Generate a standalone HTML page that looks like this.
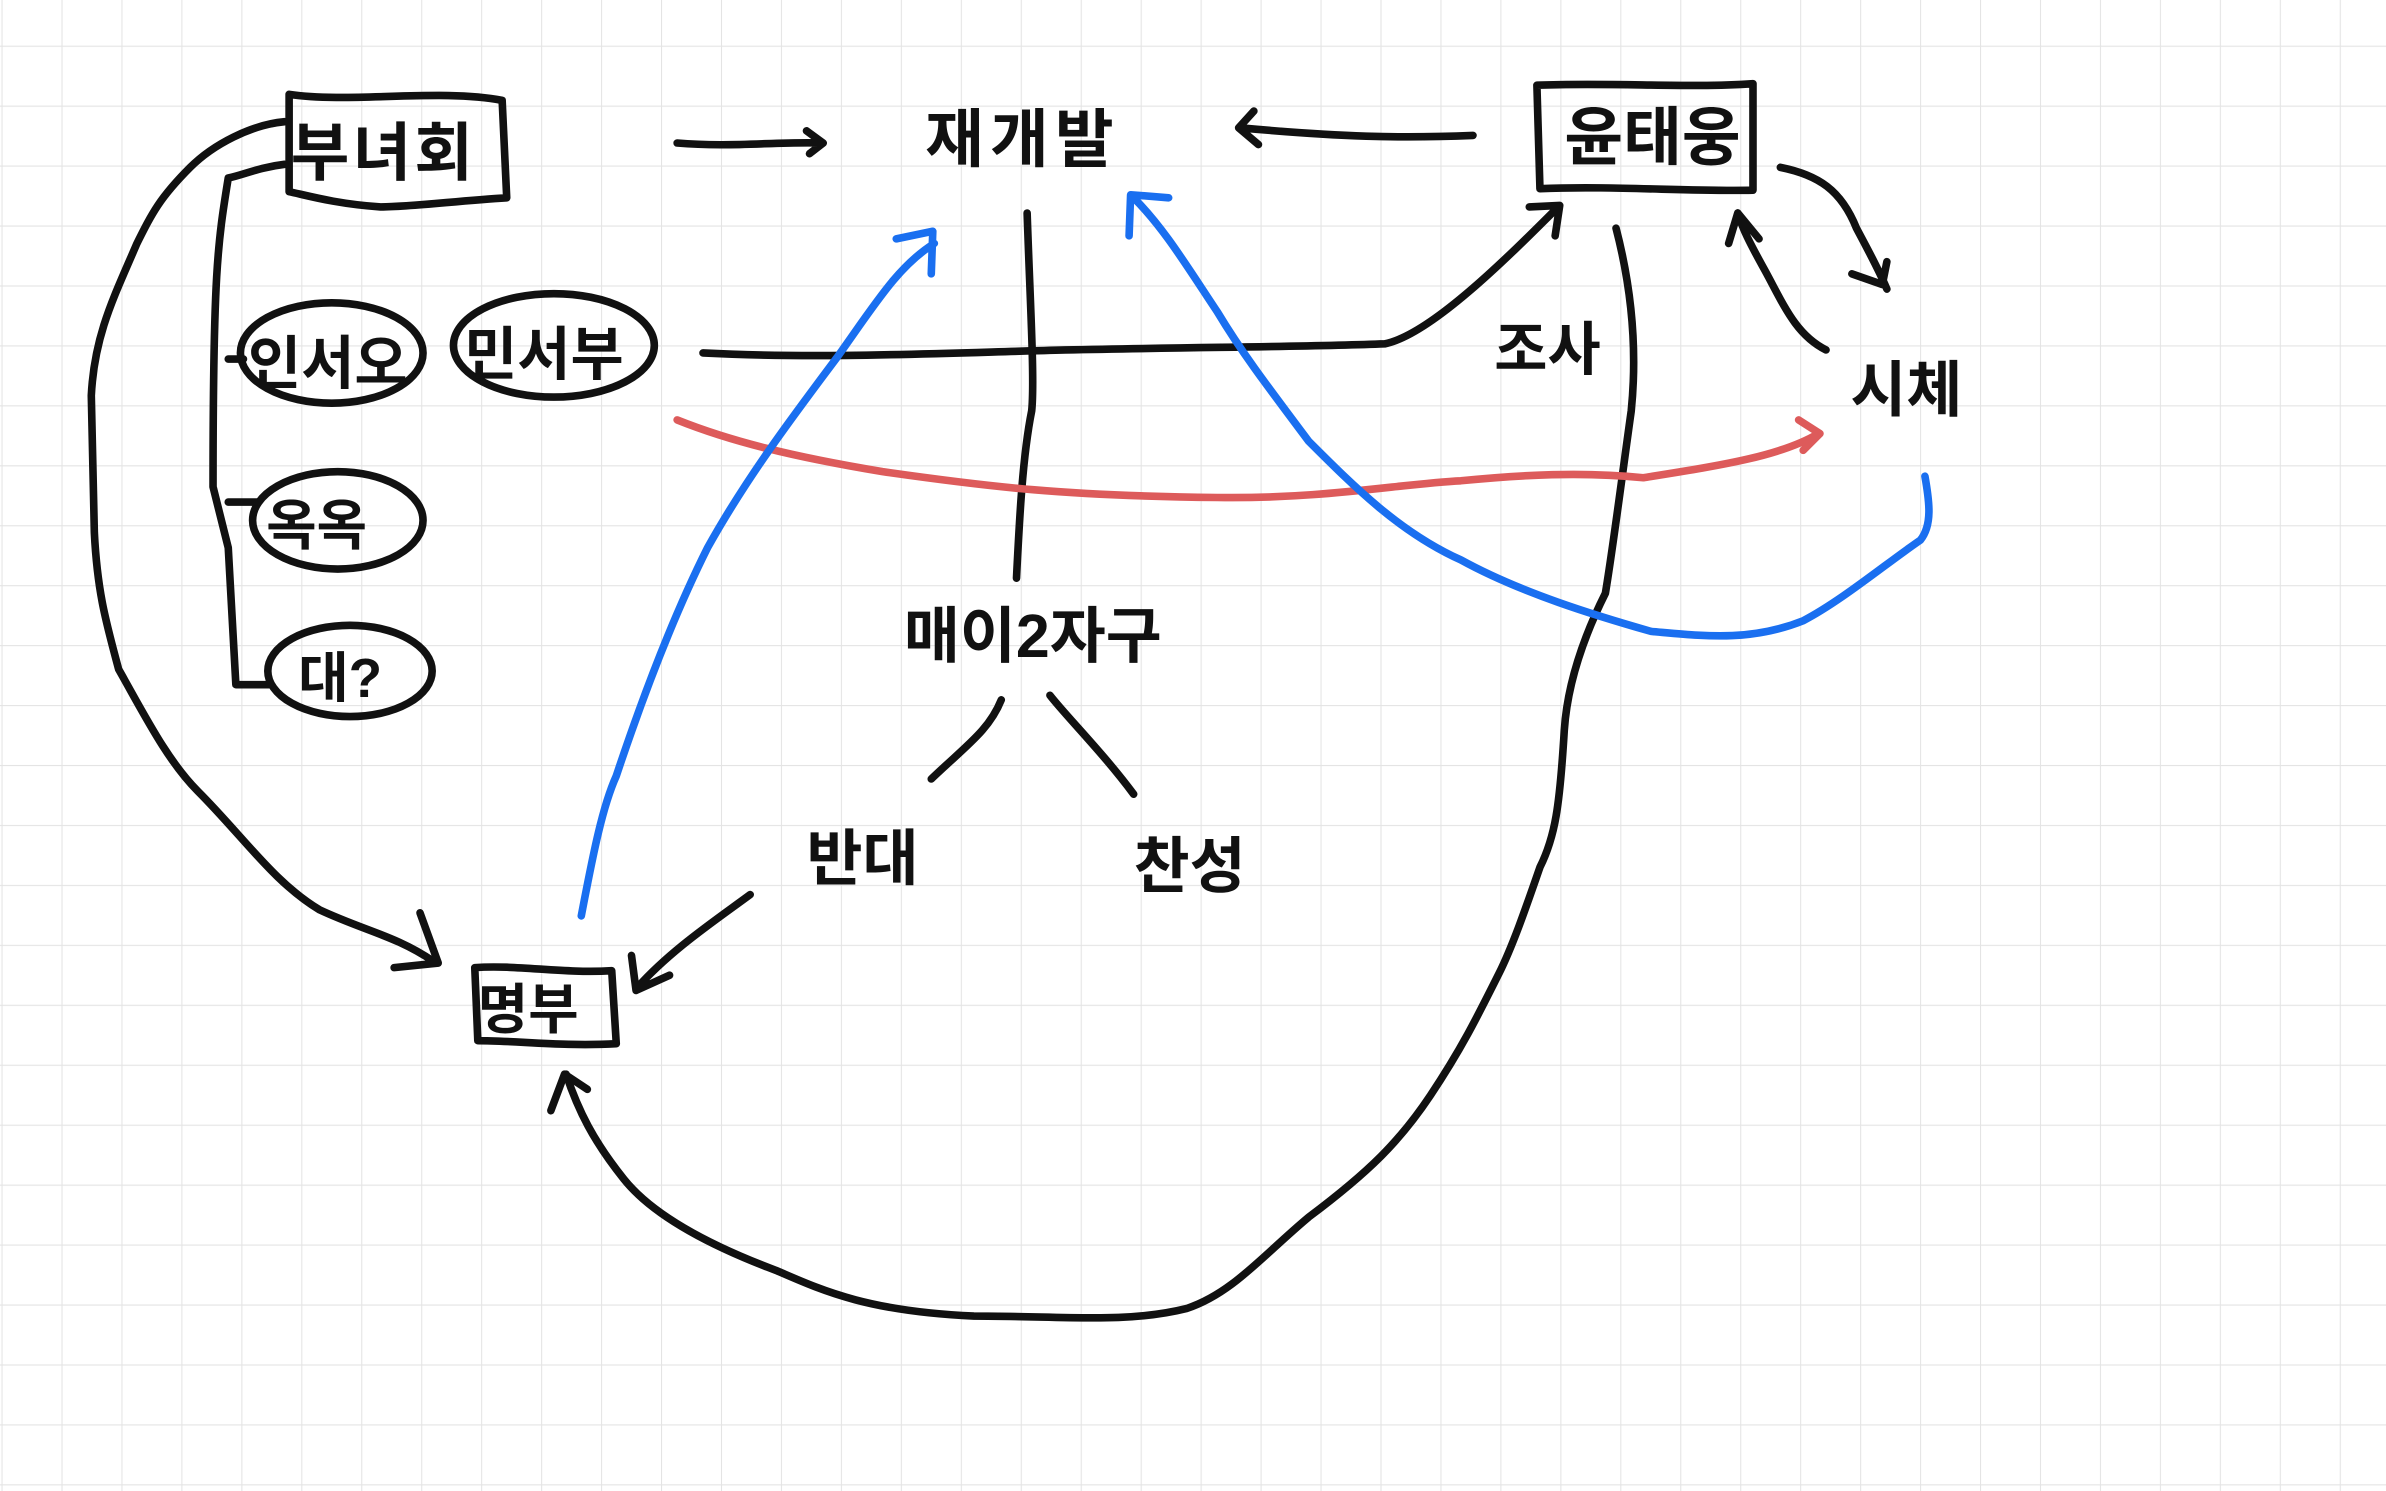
<!DOCTYPE html>
<html><head><meta charset="utf-8"><style>
html,body{margin:0;padding:0;background:#fff;}
svg{display:block;}
text{font-family:"Liberation Sans","Noto Sans CJK KR",sans-serif;font-weight:700;fill:#111;}
</style></head><body>
<svg width="2386" height="1491" viewBox="0 0 1568 980" preserveAspectRatio="none" xmlns="http://www.w3.org/2000/svg">
<defs>
<pattern id="g" x="1" y="30" width="39.4" height="39.4" patternUnits="userSpaceOnUse">
<path d="M0 0H39.4M0 0V39.4" stroke="#e4e4e4" stroke-width="1.4" fill="none"/>
</pattern>
</defs>
<rect width="1568" height="980" fill="#fff"/>
<rect width="1568" height="980" fill="url(#g)"/>
<g fill="none" stroke="#111" stroke-width="5" stroke-linecap="round" stroke-linejoin="round">
<path d="M190 62 C230 68 290 58 330 66 L333 130 C300 132 270 136 250 136 C220 134 200 128 190 126 Z"/>
<path d="M1010 56 C1060 54 1110 58 1152 55 L1152 125 C1110 126 1060 122 1012 124 Z"/>
<path d="M312 636 C340 634 370 640 402 638 L405 686 C370 688 340 684 314 684 Z"/>
<ellipse cx="218" cy="232" rx="60" ry="33"/>
<ellipse cx="364" cy="227" rx="66" ry="34"/>
<ellipse cx="222" cy="342" rx="56" ry="32"/>
<ellipse cx="230" cy="441" rx="54" ry="30"/>
<path d="M187 80 C165 82 140 95 125 110 C105 130 100 140 90 160 C75 195 62 220 60 260 L62 350 C64 390 70 410 78 440 C95 470 110 500 130 520 C160 550 180 580 210 598 C240 612 260 615 285 632"/>
<path d="M276 600 L288 633 L259 636"/>
<path d="M187 108 C170 110 160 115 150 117 C143 160 140 180 140 320 L150 360 L155 450 L178 450"/>
<path d="M150 236 L160 236 M150 330 L170 330"/>
<path d="M445 94 C480 97 510 93 540 94 M530 86 L541 94 L532 101"/>
<path d="M968 89 C920 91 880 90 815 84 M824 73 L814 84 L827 95"/>
<path d="M675 140 C677 200 680 250 678 270 C672 300 670 340 668 380"/>
<path d="M462 232 C540 236 620 232 700 230 C800 228 860 228 910 226 C940 220 990 170 1025 135 M1005 136 L1025 135 L1022 155"/>
<path d="M1062 150 C1075 200 1075 240 1072 270 C1065 320 1060 360 1055 390 C1040 420 1030 450 1028 480 C1025 530 1022 550 1012 570 C1005 590 995 620 985 640 C970 670 960 690 940 720 C920 750 900 770 860 800 C830 825 810 850 780 860 C740 870 700 865 640 865 C570 862 540 848 510 835 C470 820 430 800 410 775 C390 750 380 730 372 706"/>
<path d="M362 730 L371 706 L386 716"/>
<path d="M1170 110 C1195 115 1210 125 1220 150 C1228 165 1235 178 1240 190 M1217 180 L1237 187 L1240 172"/>
<path d="M1200 230 C1180 220 1172 200 1160 178 C1150 160 1145 150 1142 140 M1136 160 L1142 140 L1156 157"/>
<path d="M658 460 C650 480 635 490 612 512"/>
<path d="M690 457 C700 470 725 495 745 522"/>
<path d="M493 588 C470 605 440 625 418 650 M415 628 L418 651 L440 641"/>
</g>
<g fill="none" stroke="#dd5b5b" stroke-width="5" stroke-linecap="round" stroke-linejoin="round">
<path d="M445 276 C480 290 520 300 580 310 C650 320 700 326 800 327 C870 328 920 318 960 316 C1000 312 1040 310 1080 314 C1130 306 1170 300 1195 285 M1182 276 L1196 285 L1185 296"/>
</g>
<g fill="none" stroke="#1a6ff0" stroke-width="5" stroke-linecap="round" stroke-linejoin="round">
<path d="M382 602 C390 560 396 530 405 510 C420 465 440 410 465 360 C490 315 520 275 550 235 C575 200 590 175 614 160 M589 157 L613 152 L612 180"/>
<path d="M1265 313 C1268 330 1270 345 1262 355 C1240 370 1210 395 1185 408 C1150 422 1120 418 1085 415 C1050 405 1000 390 960 368 C920 350 890 320 860 290 C830 250 815 230 800 205 C780 175 765 150 745 130 M742 155 L743 128 L768 130"/>
</g>
<g font-size="42">
<text x="191" y="115" letter-spacing="2">부녀회</text>
<text x="608" y="106" letter-spacing="4">재개발</text>
<text x="1028" y="105">윤태웅</text>
<text x="982" y="243" font-size="38">조사</text>
<text x="1216" y="270" font-size="40">시체</text>
<text x="163" y="252" font-size="38">인서오</text>
<text x="305" y="246" font-size="38">민서부</text>
<text x="175" y="358" font-size="36">옥옥</text>
<text x="196" y="458" font-size="36">대?</text>
<text x="594" y="432" font-size="40">매이2자구</text>
<text x="530" y="578" font-size="40">반대</text>
<text x="745" y="583" font-size="40">찬성</text>
<text x="314" y="676" font-size="36">명부</text>
</g>
</svg>
</body></html>
